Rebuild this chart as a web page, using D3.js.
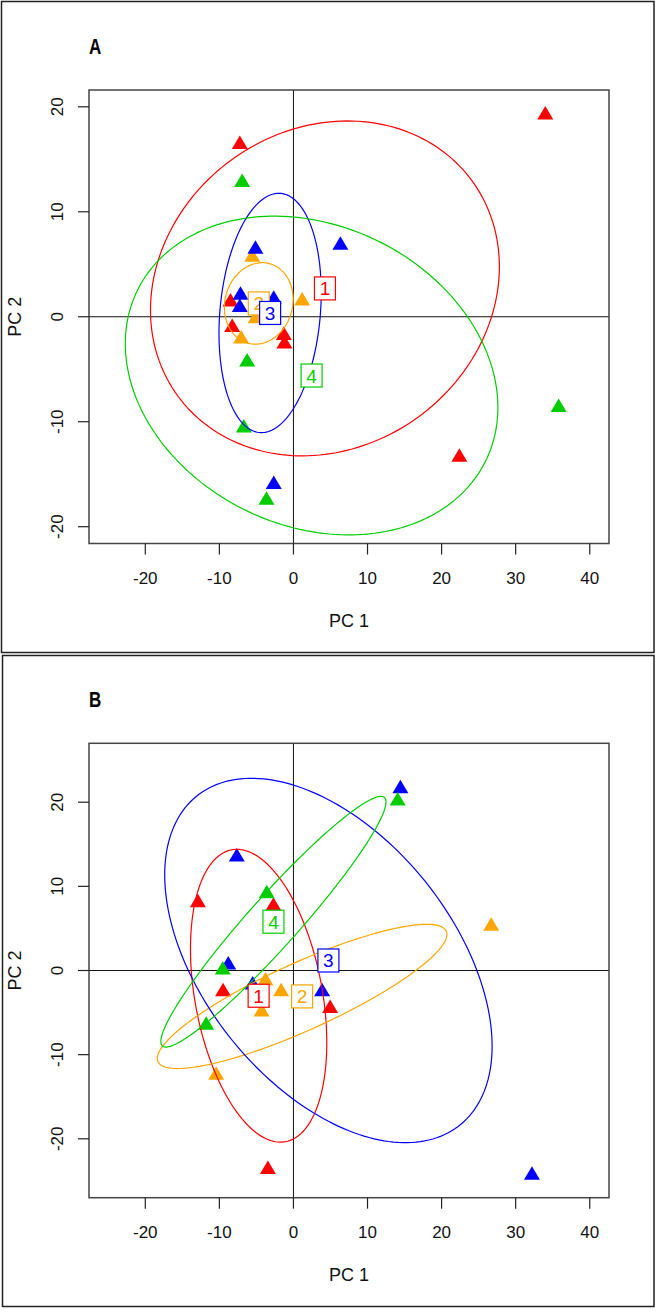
<!DOCTYPE html>
<html><head><meta charset="utf-8">
<script src="https://cdn.jsdelivr.net/npm/d3@7"></script>
<style>body{margin:0;background:#fff}svg{display:block}</style>
</head><body>
<script>
// ---------- data ----------
const groupNames = ["1","2","3","4"];
const groupColors = ["#FF0000","#FFA500","#0000FF","#00CD00"];
const xTicks = [-20,-10,0,10,20,30,40];
const yTicks = [-20,-10,0,10,20];
const xLabel = "PC 1";
const yLabel = "PC 2";

// Panel A points
const aX     = [34.0, -7.24, 22.4, -8.5, -8.27, -1.3, -1.21,   -5.57, 1.17, -7.06, -5.1,   -5.13, 6.34, -7.15, -7.24, -2.66, -2.66,   -6.92, 35.8, -6.25, -6.7, -3.64];
const aY     = [19.4, 16.6, -13.2, 1.6, -0.83, -1.6, -2.4,     5.85, 1.7, -1.92, 0.0,      6.63, 7.0, 2.25, 1.08, 1.86, -15.8,        12.97, -8.46, -4.13, -10.4, -17.3];
const aGroup = [0,0,0,0,0,0,0, 1,1,1,1, 2,2,2,2,2,2, 3,3,3,3,3];
// Panel A class centres and ellipse parameters (half-widths and correlation)
const aCx  = [4.25, -4.68, -3.15, 2.45];
const aCy  = [2.7, 1.27, 0.36, -5.6];
const aSx  = [23.55, 4.64, 6.9, 25.15];
const aSy  = [15.95, 3.88, 11.4, 15.18];
const aRho = [0.13, 0.1, 0.17, -0.2];

// Panel B points
const bX     = [-12.9, -2.7, -9.5, 4.95, -3.45,   -3.78, -1.66, -4.3, -10.43, 26.7,   -7.65, 14.44, -8.8, 3.87, 32.2, -5.5,   -3.6, 14.07, -9.54, -11.78];
const bY     = [8.3, 7.88, -2.3, -4.27, -23.4,     -1.0, -2.29, -4.7, -12.2, 5.5,      13.73, 21.83, 0.9, -2.29, -24.1, -1.5,  9.37, 20.37, 0.3, -6.28];
const bGroup = [0,0,0,0,0, 1,1,1,1,1, 2,2,2,2,2,2, 3,3,3,3];
const bCx  = [-4.7, 1.17, 4.72, -2.7];
const bCy  = [-3.0, -3.08, 1.19, 5.8];
const bSx  = [9.2, 19.55, 22.1, 15.2];
const bSy  = [17.4, 8.57, 21.65, 14.9];
const bRho = [-0.32, 0.86, -0.47, 0.955];

// ---------- drawing ----------
const W = 656, H = 1312;
const svg = d3.select("body").append("svg").attr("width", W).attr("height", H);
const font = "'Liberation Sans', Arial, sans-serif";

function panel(cfg) {
  const g = svg.append("g");
  // outer frame
  g.append("rect").attr("x", cfg.fx).attr("y", cfg.fy).attr("width", cfg.fw).attr("height", cfg.fh)
    .attr("fill", "none").attr("stroke", "#222").attr("stroke-width", 1.5);
  g.append("text").attr("transform", `translate(89,${cfg.top - 36}) scale(0.85,1.1)`).attr("font-family", font)
    .attr("font-weight", "bold").attr("font-size", 20).text(cfg.letter);

  const x = d3.scaleLinear().domain([-27.6, 42.6]).range([89, 609]);
  const y = d3.scaleLinear().domain(cfg.yDomain).range([cfg.bottom, cfg.top]);

  const clipId = "clip" + cfg.letter;
  g.append("clipPath").attr("id", clipId).append("rect")
    .attr("x", 89).attr("y", cfg.top).attr("width", 520).attr("height", cfg.bottom - cfg.top);
  const plot = g.append("g").attr("clip-path", `url(#${clipId})`);

  // zero lines
  plot.append("line").attr("x1", x(0)).attr("x2", x(0)).attr("y1", cfg.top).attr("y2", cfg.bottom)
    .attr("stroke", "#111").attr("stroke-width", 1);
  plot.append("line").attr("x1", 89).attr("x2", 609).attr("y1", y(0)).attr("y2", y(0))
    .attr("stroke", "#111").attr("stroke-width", 1);

  // points
  const pts = cfg.px.map((v, i) => ({x: v, y: cfg.py[i], g: cfg.pg[i]}));
  plot.selectAll("path.pt").data(pts).enter().append("path").attr("class", "pt")
    .attr("d", d => {
      const cx = x(d.x), cy = y(d.y);
      return `M${cx-8},${cy+6.5}L${cx+8},${cy+6.5}L${cx},${cy-7}Z`;
    })
    .attr("fill", d => groupColors[d.g]);

  // ellipses
  const line = d3.line().x(d => x(d[0])).y(d => y(d[1])).curve(d3.curveLinearClosed);
  groupNames.forEach((name, k) => {
    const pts2 = d3.range(0, 200).map(i => {
      const t = i / 200 * 2 * Math.PI;
      const r = cfg.rho[k];
      return [cfg.cx[k] + cfg.sx[k] * Math.cos(t),
              cfg.cy[k] + cfg.sy[k] * (r * Math.cos(t) + Math.sqrt(1 - r * r) * Math.sin(t))];
    });
    plot.append("path").attr("d", line(pts2)).attr("fill", "none")
      .attr("stroke", groupColors[k]).attr("stroke-width", 1.2);
  });

  // labels
  groupNames.forEach((name, k) => {
    const lx = x(cfg.cx[k]), ly = y(cfg.cy[k]);
    g.append("rect").attr("x", lx - 10.5).attr("y", ly - 11.5).attr("width", 21).attr("height", 23)
      .attr("fill", "#fff").attr("stroke", groupColors[k]).attr("stroke-width", 1.2);
    g.append("text").attr("x", lx).attr("y", ly + 7).attr("text-anchor", "middle")
      .attr("font-family", font).attr("font-size", 19).attr("fill", groupColors[k]).text(name);
  });

  // box
  g.append("rect").attr("x", 89).attr("y", cfg.top).attr("width", 520).attr("height", cfg.bottom - cfg.top)
    .attr("fill", "none").attr("stroke", "#444").attr("stroke-width", 1.5);

  // x axis
  const xa = g.append("g");
  xa.selectAll("line").data(xTicks).enter().append("line")
    .attr("x1", d => x(d)).attr("x2", d => x(d)).attr("y1", cfg.bottom).attr("y2", cfg.bottom + 11)
    .attr("stroke", "#222").attr("stroke-width", 1.2);
  xa.selectAll("text").data(xTicks).enter().append("text")
    .attr("x", d => x(d)).attr("y", cfg.bottom + 40.5).attr("text-anchor", "middle")
    .attr("font-family", font).attr("font-size", 17).attr("fill", "#111").text(d => d);
  g.append("text").attr("x", 349).attr("y", cfg.bottom + 83).attr("text-anchor", "middle")
    .attr("font-family", font).attr("font-size", 18).attr("fill", "#111").text(xLabel);

  // y axis
  const ya = g.append("g");
  ya.selectAll("line").data(yTicks).enter().append("line")
    .attr("x1", 78).attr("x2", 89).attr("y1", d => y(d)).attr("y2", d => y(d))
    .attr("stroke", "#222").attr("stroke-width", 1.2);
  ya.selectAll("text").data(yTicks).enter().append("text")
    .attr("transform", d => `translate(63,${y(d)}) rotate(-90)`).attr("text-anchor", "middle")
    .attr("font-family", font).attr("font-size", 17).attr("fill", "#111").text(d => d);
  g.append("text").attr("transform", `translate(21,${(cfg.top + cfg.bottom) / 2}) rotate(-90)`)
    .attr("text-anchor", "middle").attr("font-family", font).attr("font-size", 18).attr("fill", "#111").text(yLabel);
}

panel({letter: "A", fx: 1.5, fy: 1.5, fw: 652.5, fh: 651, top: 90, bottom: 543.5, yDomain: [-21.6, 21.6],
  px: aX, py: aY, pg: aGroup, cx: aCx, cy: aCy, sx: aSx, sy: aSy, rho: aRho});
panel({letter: "B", fx: 2.5, fy: 655.5, fw: 651.5, fh: 651, top: 743.3, bottom: 1197.7, yDomain: [-27, 27],
  px: bX, py: bY, pg: bGroup, cx: bCx, cy: bCy, sx: bSx, sy: bSy, rho: bRho});
</script>
</body></html>
